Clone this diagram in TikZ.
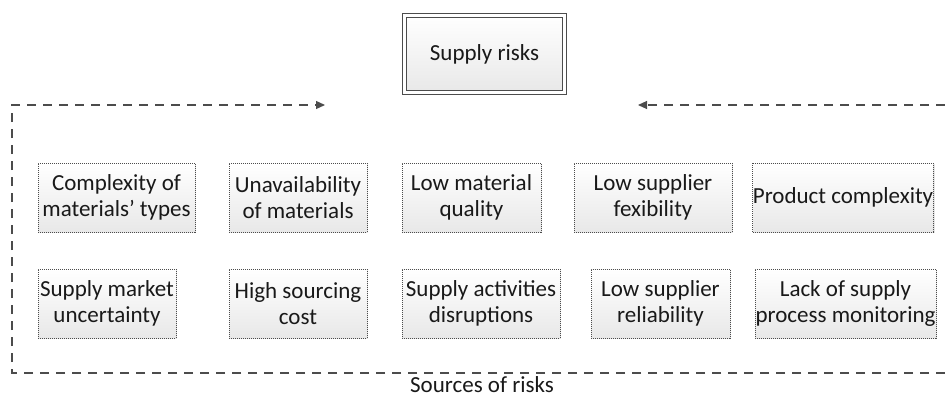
\documentclass[tikz,border=0pt]{standalone}
\usepackage{fontspec}
\setmainfont{Carlito}
\usepackage{tikz}
\usetikzlibrary{arrows.meta,shadows}

\begin{document}
\begin{tikzpicture}[x=0.5pt,y=-0.5pt,font=\fontsize{11.5}{13}\selectfont,
  riskbox/.style={draw=black!70,dash pattern=on 0.5pt off 0.5pt,line width=0.5pt,top color=white,bottom color=black!9,
    inner sep=0pt,align=center,minimum height=34.5pt,text=black!90,
    drop shadow={opacity=0.2,shadow xshift=0.7pt,shadow yshift=-0.7pt}},
  mainbox/.style={draw=black!70,line width=0.5pt,double=white,double distance=1.4pt,top color=white,bottom color=black!9,
    inner sep=0pt,minimum width=80pt,minimum height=38.5pt,text=black!90,
    drop shadow={opacity=0.2,shadow xshift=0.8pt,shadow yshift=-0.8pt}},
  flow/.style={draw=black!70,line width=0.6pt,dash pattern=on 4.5pt off 3.5pt}]
      \useasboundingbox (0,0) rectangle (945,396);
      \node[mainbox](supply) at (484.5,54){Supply risks};
      % first row
      \node[riskbox,minimum width=78.5pt](complexity) at (116.5,197.5){Complexity of\\materials’ types};
      \node[riskbox,minimum width=69pt](unavail) at (298,197.5){Unavailability\\of materials};
      \node[riskbox,minimum width=69.5pt](quality) at (471.5,197.5){Low material\\quality};
      \node[riskbox,minimum width=79pt](flexibility) at (653,197.5){Low supplier\\fexibility};
      \node[riskbox,minimum width=90pt](product) at (843,197.5){Product complexity};
      % second row
      \node[riskbox,minimum width=69pt](market) at (107,303.5){Supply market\\uncertainty};
      \node[riskbox,minimum width=69pt](cost) at (298,303.5){High sourcing\\cost};
      \node[riskbox,minimum width=79pt](disrupt) at (481,303.5){Supply activities\\disruptions};
      \node[riskbox,minimum width=69.5pt](reliab) at (660.5,303.5){Low supplier\\reliability};
      \node[riskbox,minimum width=90.5pt](monitor) at (845.5,303.5){Lack of supply\\process monitoring};
      \node[text=black!90,inner sep=0pt,anchor=base](sources) at (482,392){Sources of risks};
      % dashed frame and arrows
      \coordinate (rightbot) at (945,373);
      \coordinate (leftbot) at (12,373);
      \coordinate (lefttop) at (12,105);
      \coordinate (lefttip) at (325,105);
      \coordinate (righttop) at (945,105);
      \coordinate (righttip) at (638,105);
      \draw[flow,-{Triangle[length=4.5pt,width=4pt]}] (rightbot) -- (leftbot) -- (lefttop) -- (lefttip);
      \draw[flow,-{Triangle[length=4.5pt,width=4pt]}] (righttop) -- (righttip);
    \end{tikzpicture}
\end{document}
